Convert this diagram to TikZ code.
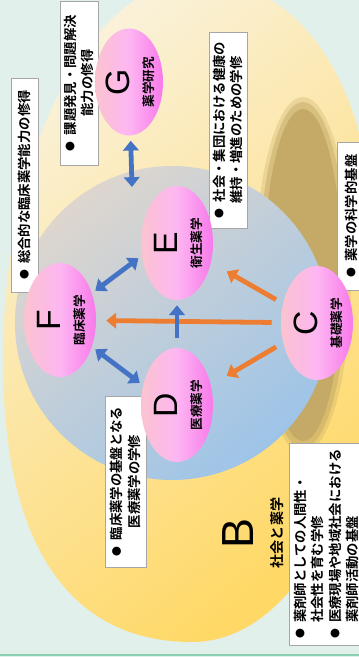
\documentclass[tikz,border=0pt]{standalone}
\usepackage{fontspec}
\newfontfamily\jpfont{Noto Sans CJK JP}[BoldFont={* Bold}]
\newfontfamily\letterfont{Liberation Sans}
\usetikzlibrary{shapes.geometric,arrows.meta}

\definecolor{mint}{HTML}{E2F0EB}
\definecolor{cream}{HTML}{FAF1D8}
\definecolor{gold}{HTML}{FFD865}
\definecolor{shadowgold}{HTML}{C4AA66}
\definecolor{discgrey}{HTML}{DED6CE}
\definecolor{discblue}{HTML}{9DC4E8}
\definecolor{eggleft}{HTML}{FBC3CF}
\definecolor{eggmid}{HTML}{FDB6F2}
\definecolor{eggright}{HTML}{F879EA}
\definecolor{arrowblue}{HTML}{4472C4}
\definecolor{arroworange}{HTML}{ED7D31}
\definecolor{boxgrey}{HTML}{A6A6A6}
\definecolor{rulegreen}{HTML}{8CCFB2}

\newlength\px
\setlength\px{0.025cm}
\newcommand\dotmark{\raisebox{0.1em}{\fontsize{7}{7}\selectfont ●}\hspace{0.45em}}
\newcommand\dotskip{\hphantom{\dotmark}}

\begin{document}
\begin{tikzpicture}
[
	x=1\px, y=-1\px,
% Egg style
	egg/.style={
		ellipse,
		inner sep=0pt,
		minimum width=72\px,
		minimum height=114\px,
		left color=eggleft,
		right color=eggright,
		middle color=eggmid},
% Egg letter style
	eggletter/.style={
		rotate=90,
		inner sep=0pt,
		font=\letterfont\fontsize{24}{24}\selectfont},
% Egg name style
	eggname/.style={
		rotate=90,
		inner sep=0pt,
		font=\jpfont\bfseries\fontsize{9}{9}\selectfont},
% Info box style
	infobox/.style={
		rotate=90,
		draw=boxgrey,
		fill=white,
		align=center,
		inner sep=2pt,
		font=\jpfont\bfseries\fontsize{9.5}{12.5}\selectfont},
% Arrow styles
	oneway/.style={
		line width=3.4pt,
		-{Triangle[width=11pt,length=7pt]}},
	twoway/.style={
		arrowblue,
		line width=3.4pt,
		{Triangle[width=11pt,length=7pt]}-{Triangle[width=11pt,length=7pt]}},
]

% Background
\useasboundingbox (0,0) rectangle (359,657);
\fill[mint] (0,0) rectangle (359,657);
\clip (0,0) rectangle (359,657);
\draw[rulegreen, line width=2\px] (0,655) -- (359,655);

% Outer region B
\shade[top color=cream, bottom color=gold, shading angle=40]
	(378,280) .. controls (378,480) and (300,642) .. (192,642)
	.. controls (80,642) and (3,560) .. (3,360)
	.. controls (3,150) and (90,-20) .. (198,-20)
	.. controls (310,-20) and (378,100) .. (378,280) -- cycle;

% Shadow behind the core
\fill[shadowgold, opacity=.3] (303,275) ellipse [x radius=48, y radius=178];
\fill[shadowgold, opacity=.5] (303,275) ellipse [x radius=44, y radius=173];
\fill[shadowgold] (303,275) ellipse [x radius=39, y radius=166];

% Core region
\shade[top color=discgrey, bottom color=discblue, shading angle=40]
	(172,323) circle [radius=157];
\coordinate (coreTop) at (132,187);

% Info boxes
\node[infobox, minimum width=214\px, minimum height=27\px] (goal) at (24.5,185)
	{\dotmark 総合的な臨床薬学能力の修得};
\node[infobox, minimum width=164\px, minimum height=38\px] (research) at (79,83)
	{\dotmark 課題発見・問題解決\\能力の修得};
\node[infobox, minimum width=196\px, minimum height=38\px] (health) at (228,130)
	{\dotmark 社会・集団における健康の\\維持・増進のための学修};
\node[infobox, minimum width=148\px, minimum height=28\px] (basis) at (351,216)
	{\dotmark 薬学の科学的基盤};
\node[infobox, minimum width=171\px, minimum height=41\px] (medical) at (125.5,481.5)
	{\dotmark 臨床薬学の基盤となる\\医療薬学の学修};
\node[infobox, align=left, minimum width=202\px, minimum height=75\px] (society) at (326.5,544)
	{\dotmark 薬剤師としての人間性・\\
	 \dotskip 社会性を育む学修\\
	 \dotmark 医療現場や地域社会における\\
	 \dotskip 薬剤師活動の基盤};

% Eggs
\node[egg, minimum width=68\px, minimum height=107\px] (G) at (129,82) {};
\node[egg] (E) at (177,243) {};
\node[egg] (F) at (60,320) {};
\node[egg] (C) at (317,323) {};
\node[egg] (D) at (177,405) {};

% Egg labels
\foreach \n/\t in {G/薬学研究, E/衛生薬学, F/臨床薬学, C/基礎薬学, D/医療薬学}
{
	\node[eggletter] (\n-letter) at ([xshift=-11\px]\n) {\n};
	\node[eggname] (\n-name) at ([xshift=20\px]\n) {\t};
}

% Region B label
\node[eggletter, font=\letterfont\fontsize{32}{32}\selectfont] (B-letter) at (238,533) {B};
\node[eggname, font=\jpfont\bfseries\fontsize{10}{10}\selectfont] (B-name) at (277,533) {社会と薬学};

% Orange arrows
\draw[oneway, arroworange, shorten <=9\px, shorten >=10\px] (C) -- (F);
\draw[oneway, arroworange, shorten <=8\px, shorten >=18\px] (C) -- (E);
\draw[oneway, arroworange, shorten <=8\px, shorten >=18\px] (C) -- (D);

% Blue arrows
\draw[twoway, shorten <=5\px] (G) -- (coreTop);
\draw[twoway, shorten <=4\px, shorten >=4\px] (F.40) -- (E.200);
\draw[twoway, shorten <=4\px, shorten >=4\px] (F.-40) -- (D.150);
\draw[oneway, arrowblue, shorten <=10\px, shorten >=5\px] (D) -- (E);

\end{tikzpicture}
\end{document}
